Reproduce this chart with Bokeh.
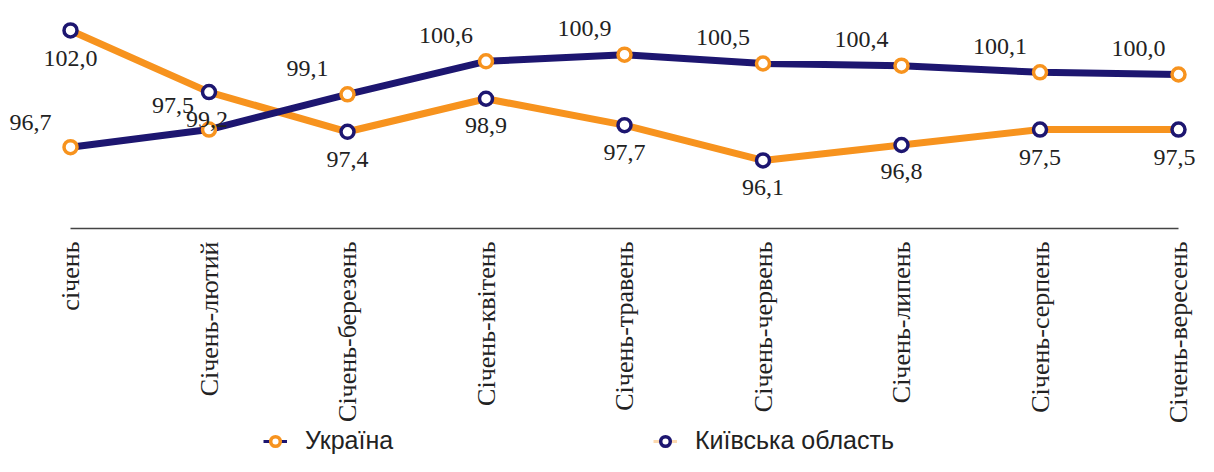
import math
from bokeh.plotting import figure
from bokeh.models import ColumnDataSource, Range1d, Legend, LegendItem
from bokeh.core.properties import value
from bokeh.embed import file_html
from bokeh.resources import INLINE

# ---------------- data ----------------
categories = ["січень", "Січень-лютий", "Січень-березень", "Січень-квітень",
              "Січень-травень", "Січень-червень", "Січень-липень",
              "Січень-серпень", "Січень-вересень"]

ukraine_values = [96.7, 97.5, 99.1, 100.6, 100.9, 100.5, 100.4, 100.1, 100.0]
ukraine_labels = ["96,7", "99,2", "99,1", "100,6", "100,9", "100,5", "100,4", "100,1", "100,0"]

kyiv_values = [102.0, 99.2, 97.4, 98.9, 97.7, 96.1, 96.8, 97.5, 97.5]
kyiv_labels = ["102,0", "97,5", "97,4", "98,9", "97,7", "96,1", "96,8", "97,5", "97,5"]

series_names = ["Україна", "Київська область"]

# ---------------- style ----------------
ORANGE = "#F7931E"
NAVY = "#1D1670"
TEXT = "#222222"
AXIS_Y = 93.01          # level of the category baseline (data units)

# label offsets (screen px)
ua_xoff = [-40, -2, -40, -40, -40, -40, -40, -40, -40]
ua_yoff = [-25, -10, -26, -26, -26, -26, -26, -26, -26]
kv_xoff = [0, -36, 0, 0, 0, 0, 0, 0, -4]
kv_yoff = [28, 13, 28, 27, 27, 27, 27, 28, 28]

xs = list(range(len(categories)))

p = figure(width=1198, height=456,
           x_range=Range1d(-0.50542, 8.1444),
           y_range=Range1d(82.66, 103.359),
           toolbar_location=None, output_backend="svg",
           x_axis_location=None, y_axis_location=None,
           min_border=0)
p.outline_line_color = None
p.xgrid.visible = False
p.ygrid.visible = False
p.background_fill_color = "white"
p.border_fill_color = "white"

ua_src = ColumnDataSource(dict(x=xs, y=ukraine_values, lab=ukraine_labels,
                               xo=ua_xoff, yo=ua_yoff))
kv_src = ColumnDataSource(dict(x=xs, y=kyiv_values, lab=kyiv_labels,
                               xo=kv_xoff, yo=kv_yoff))
cat_src = ColumnDataSource(dict(x=xs, y=[AXIS_Y] * len(xs), cat=categories))

# category baseline
p.segment(x0=[xs[0]], y0=[AXIS_Y], x1=[xs[-1]], y1=[AXIS_Y],
          line_color="#444444", line_width=1.5)

# category labels (rotated, reading upwards)
p.text("x", "y", text="cat", source=cat_src, angle=math.pi / 2,
       y_offset=13, text_align="right", text_baseline="middle",
       text_font=value("Liberation Serif"), text_font_size="26px",
       text_color=TEXT)

# lines (orange line through navy markers, navy line through orange markers)
p.line("x", "y", source=kv_src, line_color=ORANGE, line_width=7, line_join="round")
p.line("x", "y", source=ua_src, line_color=NAVY, line_width=7, line_join="round")

p.scatter("x", "y", source=kv_src, marker="circle", size=13,
          fill_color="white", line_color=NAVY, line_width=3.5)
p.scatter("x", "y", source=ua_src, marker="circle", size=13,
          fill_color="white", line_color=ORANGE, line_width=3.5)

for src in (ua_src, kv_src):
    p.text("x", "y", text="lab", source=src, x_offset="xo", y_offset="yo",
           text_align="center", text_baseline="middle",
           text_font=value("Liberation Serif"), text_font_size="24px",
           text_color=TEXT)

# legend-only renderers (hidden on the plot; thin line stubs beside the marker)
lg_ua_line = p.line("x", "y", source=ua_src, line_color=NAVY, line_width=3, visible=False)
lg_ua_pt = p.scatter("x", "y", source=ua_src, marker="circle", size=13,
                     fill_color="white", line_color=ORANGE, line_width=3.5, visible=False)
lg_kv_line = p.line("x", "y", source=kv_src, line_color=ORANGE, line_width=3,
                    line_alpha=0.35, visible=False)
lg_kv_pt = p.scatter("x", "y", source=kv_src, marker="circle", size=13,
                     fill_color="white", line_color=NAVY, line_width=3.5, visible=False)

def make_legend(label, renderers, loc):
    return Legend(items=[LegendItem(label=label, renderers=renderers)],
                  location=loc, orientation="horizontal",
                  glyph_width=24, glyph_height=28, label_height=28,
                  label_standoff=18, padding=0, margin=0, spacing=0,
                  border_line_color=None, background_fill_alpha=0,
                  label_text_font="Liberation Sans", label_text_font_size="25px",
                  label_text_color=TEXT, label_text_baseline="middle")

p.add_layout(make_legend(series_names[0], [lg_ua_line, lg_ua_pt], (263, 1)))
p.add_layout(make_legend(series_names[1], [lg_kv_line, lg_kv_pt], (653, 1)))

open("out.html", "w").write(file_html(p, INLINE))
